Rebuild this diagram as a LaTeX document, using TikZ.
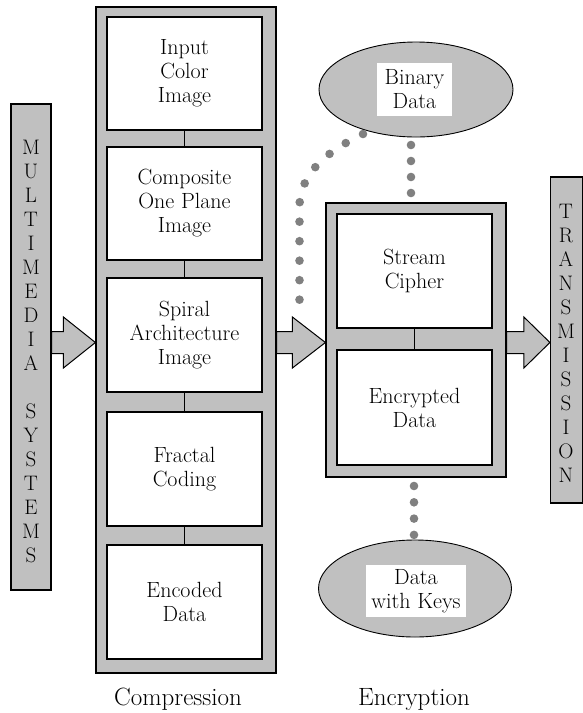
\documentclass[tikz,border=0pt]{standalone}
\usetikzlibrary{calc,shapes.geometric}
\definecolor{fillgray}{HTML}{C0C0C0}
\definecolor{dotgray}{HTML}{808080}
\newcommand{\bxfont}{\fontsize{22}{24}\selectfont}
\newcommand{\vfont}{\fontsize{21}{24}\selectfont}
\newcommand{\lblfont}{\fontsize{25}{28}\selectfont}
\newcommand{\blkarrow}[3]{%
  \draw[barrow] ($(#1)+(0,-11)$) -- ($(#2)+(-#3,-11)$) -- ($(#2)+(-#3,-25.5)$) -- (#2)
    -- ($(#2)+(-#3,25.5)$) -- ($(#2)+(-#3,11)$) -- ($(#1)+(0,11)$) -- cycle;}
\begin{document}
\begin{tikzpicture}[x=1pt,y=-1pt,
  outerbox/.style={draw=black, fill=fillgray, line width=1.2pt, inner sep=0pt},
  innerbox/.style={draw=black, fill=white, line width=1.2pt, minimum width=155pt,
    align=center, inner sep=0pt, font=\bxfont},
  vtext/.style={align=center, inner sep=0pt, font=\vfont},
  link/.style={draw=black, line width=1.2pt},
  oval/.style={ellipse, draw=black, fill=fillgray, line width=0.9pt, inner sep=0pt},
  whitelbl/.style={fill=white, align=center, inner sep=0pt, font=\bxfont},
  dots/.style={draw=dotgray, line width=8.6pt, line cap=round, dash pattern=on 0pt off 16pt},
  barrow/.style={draw=black, fill=fillgray, line width=1pt, line join=miter},
  lbl/.style={font=\lblfont, anchor=base, inner sep=0pt}]
\useasboundingbox (0,0) rectangle (583,713);

% side bars
\node[outerbox, minimum width=40pt, minimum height=486pt] (mm) at (31,347) {};
\node[vtext] (mmtext) at (31,351) {M\\U\\L\\T\\I\\M\\E\\D\\I\\A\\[24pt]S\\Y\\S\\T\\E\\M\\S};
\node[outerbox, minimum width=32pt, minimum height=326pt] (tr) at (566.5,340) {};
\node[vtext] (trtext) at (566,343) {T\\R\\A\\N\\S\\M\\I\\S\\S\\I\\O\\N};

% compression column
\node[outerbox, minimum width=180pt, minimum height=666pt] (comp) at (186,340) {};
\node[innerbox, minimum height=113pt] (c1) at (184.5,73.5) {Input\\Color\\Image};
\node[innerbox, minimum height=113pt] (c2) at (184.5,203.5) {Composite\\One Plane\\Image};
\node[innerbox, minimum height=114pt] (c3) at (184.5,335) {Spiral\\Architecture\\Image};
\node[innerbox, minimum height=114pt] (c4) at (184.5,469) {Fractal\\Coding};
\node[innerbox, minimum height=114pt] (c5) at (184.5,602) {Encoded\\Data};
\draw[link] (c1) -- (c2);
\draw[link] (c2) -- (c3);
\draw[link] (c3) -- (c4);
\draw[link] (c4) -- (c5);

% encryption column
\node[outerbox, minimum width=180pt, minimum height=274pt] (enc) at (416,340) {};
\node[innerbox, minimum height=114pt] (e1) at (414.5,271) {Stream\\Cipher};
\node[innerbox, minimum height=115pt] (e2) at (414.5,407.5) {Encrypted\\Data};
\draw[link] (e1) -- (e2);

% ovals
\node[oval, minimum width=194pt, minimum height=95pt] (bin) at (416,89.5) {};
\node[whitelbl, minimum width=75pt, minimum height=53pt] (bint) at (414.5,89.5) {Binary\\Data};
\node[oval, minimum width=193pt, minimum height=97pt] (keys) at (415,588.5) {};
\node[whitelbl, minimum width=100pt, minimum height=52pt] (keyst) at (416,591) {Data\\with Keys};

% dotted connectors
\coordinate (d1s) at (411,145);
\coordinate (d1e) at (411,193.5);
\draw[dots] (d1s) -- (d1e);
\coordinate (d2s) at (414,486);
\coordinate (d2e) at (414,535);
\draw[dots, dash pattern=on 0pt off 16.3pt] (d2s) -- (d2e);
\coordinate (cs) at (363,134);
\coordinate (cm) at (299.5,207);
\coordinate (ce) at (299.5,302.5);
\draw[dots, dash pattern=on 0pt off 19.5pt] (cs) .. controls (325,152) and (299.5,175) .. (cm) -- (ce);

% block arrows
\coordinate (ay) at (0,342.5);
\coordinate (a1s) at (mm.east|-ay);
\coordinate (a1e) at (comp.west|-ay);
\coordinate (a2s) at (comp.east|-ay);
\coordinate (a2e) at (enc.west|-ay);
\coordinate (a3s) at (enc.east|-ay);
\coordinate (a3e) at (tr.west|-ay);
\blkarrow{a1s}{a1e}{32}
\blkarrow{a2s}{a2e}{33}
\blkarrow{a3s}{a3e}{26}

% labels
\node[lbl] (lc) at (178,705) {Compression};
\node[lbl] (le) at (414,705) {Encryption};
\end{tikzpicture}
\end{document}
